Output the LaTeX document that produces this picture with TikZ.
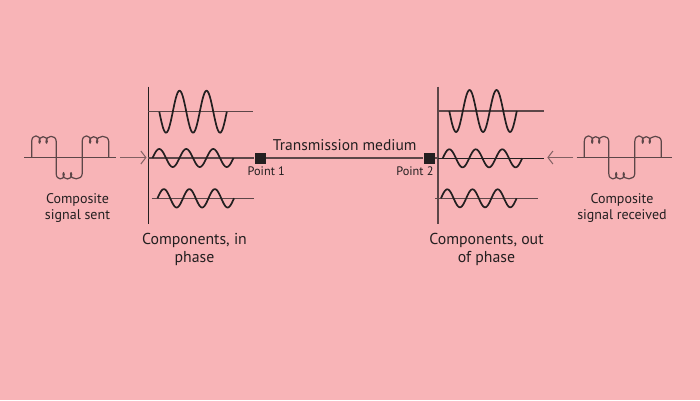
\documentclass[tikz,border=0pt]{standalone}
\usepackage{fontspec}
\setmainfont{PT Sans}
\usetikzlibrary{arrows.meta}
\definecolor{bg}{RGB}{248,180,183}
\definecolor{lg}{RGB}{92,70,72}
\definecolor{ag}{RGB}{130,96,98}
\definecolor{ink}{RGB}{35,31,32}
\tikzset{
  axisk/.style={draw=ink,line width=1.5pt},
  axisg/.style={draw=lg,line width=1.3pt},
  wave/.style={draw=ink,line width=1.7pt,line join=round},
  sig/.style={draw=lg,line width=1.2pt,line join=round},
  feed/.style={draw=ag,line width=1pt,-{Straight Barb[length=5pt,width=13pt,line width=1pt]}},
  pt/.style={fill=ink,minimum size=11pt,inner sep=0pt,draw=none},
  lbl/.style={text=ink,font=\fontsize{14}{16}\selectfont,align=center},
  big/.style={text=ink,font=\fontsize{15.8}{18}\selectfont,align=center},
  small/.style={text=ink,font=\fontsize{12.3}{14}\selectfont,anchor=base},
  compsig/.pic={
    \draw[sig] (0,0) -- (0,-16)
      .. controls (0,-23.5) and (8.5,-23.5) .. (8.5,-16)
      .. controls (8.5,-13.8) and (7.3,-13.8) .. (7.3,-15.5)
      .. controls (7.3,-22.5) and (15.5,-22.5) .. (15.5,-16)
      .. controls (15.5,-13.8) and (14.3,-13.8) .. (14.3,-15.5)
      .. controls (14.3,-23) and (24.5,-23) .. (24.5,-16)
      -- (24.5,16)
      .. controls (24.5,23) and (32.5,23) .. (32.5,17)
      .. controls (32.5,14.5) and (31.3,14.5) .. (31.3,16.5)
      .. controls (31.3,23) and (40,23) .. (40,17)
      .. controls (40,14.5) and (38.8,14.5) .. (38.8,16.5)
      .. controls (38.8,23) and (50.5,23) .. (50.5,16)
      -- (50.5,-16)
      .. controls (50.5,-23.5) and (59,-23.5) .. (59,-16)
      .. controls (59,-13.8) and (57.8,-13.8) .. (57.8,-15.5)
      .. controls (57.8,-22.5) and (66,-22.5) .. (66,-16)
      .. controls (66,-13.8) and (64.8,-13.8) .. (64.8,-15.5)
      .. controls (64.8,-23) and (77,-23) .. (77,-16)
      -- (77,0);
  }
}
\begin{document}
\begin{tikzpicture}[x=1pt,y=-1pt]
\fill[bg] (0,0) rectangle (700,400);
\useasboundingbox (0,0) rectangle (700,400);

% ---- left: composite signal sent
\draw[axisg] (24,157.5) -- (116,157.5);
\pic at (31.7,157.5) {compsig};
\node[lbl] (sent) at (77.5,208) {Composite\\signal sent};
\coordinate (la0) at (120,157.5);
\coordinate (la1) at (146.5,157.5);
\draw[feed] (la0) -- (la1);

% ---- left components
\draw[axisk] (148.3,86.7) -- (148.3,224);
\draw[axisg] (148.3,111.7) -- (253.3,111.7);
\draw[axisg,line width=1.8pt] (148.3,158) -- (252,158);
\draw[axisg] (151.7,198.3) -- (254.3,198.3);
\draw[wave] plot[domain=0:67.5,samples=90] ({159.3+\x},{111.7+21*sin((\x/27)*360)});
\draw[wave] plot[domain=0:81,samples=100] ({152.5+\x},{158-9*sin((\x/27)*360)});
\draw[wave] plot[domain=0:76.5,samples=100] ({157.5+\x},{198.3-9.2*sin((\x/25.5)*360)});
\node[big] (inph) at (194.5,249.5) {Components, in\\phase};

% ---- transmission medium
\node[pt] (p1) at (260,158) {};
\node[pt] (p2) at (429,158) {};
\coordinate (rv) at (437.7,158);
\draw[draw=lg,line width=1.2pt] (252,158) -- (p1);
\draw[draw=lg,line width=1.2pt] (p1) -- (p2);
\draw[draw=lg,line width=1.2pt] (p2) -- (rv);
\node[text=ink,font=\fontsize{15.5}{18}\selectfont,anchor=base] (tm) at (344.7,150) {Transmission medium};
\node[small] (p1l) at (266.3,175.7) {Point 1};
\node[small] (p2l) at (415,175.7) {Point 2};

% ---- right components
\draw[axisg,line width=1.8pt] (437.7,86.7) -- (437.7,224);
\draw[axisg] (437.7,111) -- (544,111);
\draw[axisk,line width=1.3pt] (437.7,158.3) -- (544,158.3);
\draw[axisg] (435,198.3) -- (538.3,198.3);
\draw[wave] plot[domain=0:67.5,samples=90] ({449.3+\x},{111+21*sin((\x/27)*360)});
\draw[wave] plot[domain=0:79.5,samples=100] ({442.7+\x},{158.3-9*sin((\x/26.5)*360)});
\draw[wave] plot[domain=0:75.6,samples=100] ({441+\x},{198.3-9*sin((\x/25.2)*360)});
\node[big] (outph) at (486.5,249.5) {Components, out\\of phase};

% ---- right: composite signal received
\coordinate (ra0) at (573.3,157.5);
\coordinate (ra1) at (547.3,157.5);
\draw[feed] (ra0) -- (ra1);
\draw[axisg] (576.7,157.5) -- (671.7,157.5);
\pic at (584.3,157.5) {compsig};
\node[lbl] (recv) at (622,208) {Composite\\signal received};
\end{tikzpicture}
\end{document}
